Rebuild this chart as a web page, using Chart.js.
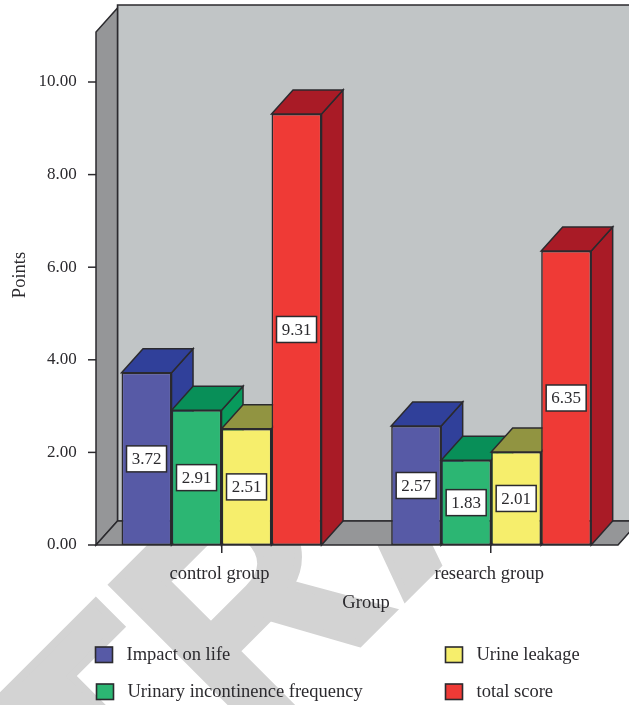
<!DOCTYPE html>
<html>
<head>
<meta charset="utf-8">
<style>
  html, body { margin: 0; padding: 0; background: #fff; }
  #wrap { position: relative; width: 629px; height: 705px; }
</style>
<script src="https://cdn.jsdelivr.net/npm/chart.js@4"></script>
</head>
<body>
<div id="wrap"><canvas id="chartBar"></canvas></div>
<script>
const categories = ['control group', 'research group'];
const seriesNames = ['Impact on life', 'Urinary incontinence frequency', 'Urine leakage', 'total score'];
const impactOnLife = [3.72, 2.57];
const urinaryFrequency = [2.91, 1.83];
const urineLeakage = [2.51, 2.01];
const totalScore = [9.31, 6.35];

const frontColors = ['#575aa6', '#2cb673', '#f6ee6c', '#ef3a36'];
const topColors = ['#30409a', '#088f58', '#919441', '#a91b26'];
const sideColors = ['#30409a', '#089a5c', '#919441', '#a91b26'];

const FONT = '"Liberation Serif", serif';
const INK = '#2b2a2e';
const DX = 21.5, DY = 24;

Chart.defaults.font.family = FONT;
Chart.defaults.animation = false;

const poly = (ctx, pts, fill) => {
    ctx.beginPath();
    pts.forEach((p, i) => i ? ctx.lineTo(p[0], p[1]) : ctx.moveTo(p[0], p[1]));
    ctx.closePath();
    ctx.fillStyle = fill;
    ctx.fill();
    ctx.stroke();
};

const watermark = {
    id: 'watermark',
    beforeDraw(chart) {
        const ctx = chart.ctx;
        ctx.save();
        ctx.translate(115.3, 887.2);
        ctx.rotate(-Math.PI / 4);
        ctx.fillStyle = '#d3d3d3';
        ctx.strokeStyle = '#d3d3d3';
        ctx.lineWidth = 8;
        ctx.lineJoin = 'miter';
        ctx.font = 'bold 313px "Liberation Sans", sans-serif';
        // letters set one by one, R is narrower in the original lettering
        [['T', 0, 1], ['R', 193, 0.9], ['A', 403, 1]].forEach(([letter, offset, squeeze]) => {
            ctx.save();
            ctx.translate(offset, 0);
            ctx.scale(squeeze, 1);
            ctx.fillText(letter, 0, 0);
            ctx.strokeText(letter, 0, 0);
            ctx.restore();
        });
        ctx.restore();
    }
};

const box3d = {
    id: 'box3d',
    beforeDatasetsDraw(chart) {
        const ctx = chart.ctx, y = chart.scales.y;
        const y0 = y.getPixelForValue(0), yTop = y.top;
        const xl = 96, xr = 618;
        ctx.save();
        ctx.strokeStyle = INK;
        ctx.lineWidth = 1.5;
        poly(ctx, [[xl + DX, 5], [660, 5], [660, y0 - DY], [xl + DX, y0 - DY]], '#c1c5c6');
        poly(ctx, [[xl, y0], [xl, yTop], [xl + DX, yTop - DY], [xl + DX, y0 - DY]], '#959698');
        poly(ctx, [[xl, y0], [xr, y0], [xr + DX, y0 - DY], [xl + DX, y0 - DY]], '#959698');
        // y ticks
        y.ticks.forEach(t => {
            const py = y.getPixelForValue(t.value);
            ctx.beginPath();
            ctx.moveTo(88, py);
            ctx.lineTo(xl, py);
            ctx.stroke();
        });
        ctx.restore();
    },
    // the library paints the last dataset first, the boxes have to go left to right
    beforeDatasetDraw() {
        return false;
    },
    afterDatasetsDraw(chart) {
        const ctx = chart.ctx;
        chart.data.datasets.forEach((ds, i) => {
            const meta = chart.getDatasetMeta(i);
            ctx.save();
            ctx.strokeStyle = INK;
            ctx.lineWidth = 1.5;
            meta.data.forEach(bar => {
                const l = bar.x - bar.width / 2, r = bar.x + bar.width / 2;
                poly(ctx, [[r, bar.y], [r, bar.base], [r + DX, bar.base - DY], [r + DX, bar.y - DY]], sideColors[i]);
                poly(ctx, [[l, bar.y], [r, bar.y], [r + DX, bar.y - DY], [l + DX, bar.y - DY]], topColors[i]);
            });
            ctx.restore();
            meta.controller.draw();
        });
        // value boxes
        ctx.save();
        ctx.font = '17px ' + FONT;
        ctx.textAlign = 'center';
        ctx.textBaseline = 'middle';
        chart.data.datasets.forEach((ds, i) => {
            chart.getDatasetMeta(i).data.forEach((bar, j) => {
                const cy = (bar.y + bar.base) / 2;
                ctx.fillStyle = '#fff';
                ctx.strokeStyle = INK;
                ctx.lineWidth = 1.5;
                ctx.fillRect(bar.x - 20, cy - 13, 40, 26);
                ctx.strokeRect(bar.x - 20, cy - 13, 40, 26);
                ctx.fillStyle = INK;
                ctx.fillText(ds.data[j].toFixed(2), bar.x, cy + 1);
            });
        });
        ctx.restore();
    },
    afterDraw(chart) {
        const ctx = chart.ctx;
        ctx.save();
        ctx.fillStyle = INK;
        ctx.font = '18.5px ' + FONT;
        ctx.textBaseline = 'middle';
        ctx.textAlign = 'center';
        ctx.fillText('Group', 366, 603);
        ctx.save();
        ctx.translate(20, 275);
        ctx.rotate(-Math.PI / 2);
        ctx.fillText('Points', 0, 0);
        ctx.restore();
        // legend
        ctx.textAlign = 'left';
        ctx.textBaseline = 'alphabetic';
        const spots = [[95.5, 647], [96.5, 684], [445.5, 647], [445.5, 684]];
        seriesNames.forEach((name, i) => {
            const s = spots[i];
            ctx.fillStyle = frontColors[i];
            ctx.strokeStyle = INK;
            ctx.lineWidth = 1.6;
            ctx.fillRect(s[0], s[1], 17, 15.5);
            ctx.strokeRect(s[0], s[1], 17, 15.5);
            ctx.fillStyle = INK;
            ctx.fillText(name, s[0] + 31, s[1] + 13);
        });
        ctx.restore();
    }
};

const series = [impactOnLife, urinaryFrequency, urineLeakage, totalScore];

new Chart(document.getElementById('chartBar'), {
    type: 'bar',
    data: {
        labels: categories,
        datasets: series.map((values, i) => ({
            label: seriesNames[i],
            data: values,
            backgroundColor: frontColors[i],
            borderColor: INK,
            borderWidth: 1.6,
            borderSkipped: false,
            categoryPercentage: 0.7417,
            barPercentage: 1
        }))
    },
    options: {
        responsive: true,
        maintainAspectRatio: false,
        layout: { padding: { top: 32, right: 3 } },
        plugins: {
            legend: { display: false },
            tooltip: { enabled: false }
        },
        scales: {
            x: {
                afterFit: scale => { scale.height = 160; },
                border: { display: false },
                grid: { drawOnChartArea: false, offset: false, tickLength: 8, color: INK, lineWidth: 1.5 },
                ticks: { color: INK, font: { size: 18.5 }, padding: 10, maxRotation: 0, labelOffset: -2 }
            },
            y: {
                min: 0,
                max: 11.08,
                afterFit: scale => { scale.width = 86.7; },
                border: { display: false },
                grid: { display: false },
                ticks: {
                    stepSize: 2,
                    includeBounds: false,
                    color: INK,
                    font: { size: 17 },
                    padding: 2,
                    callback: v => v.toFixed(2)
                }
            }
        }
    },
    plugins: [watermark, box3d]
});
</script>
</body>
</html>
